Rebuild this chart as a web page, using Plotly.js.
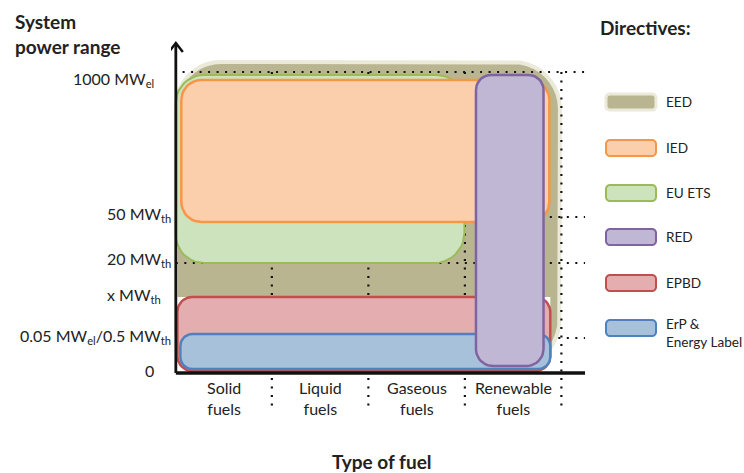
<!DOCTYPE html>
<html>
<head>
<meta charset="utf-8">
<script src="https://cdn.plot.ly/plotly-3.0.1.min.js"></script>
<style>html,body{margin:0;padding:0;background:#fff}#chart{width:744px;height:473px}</style>
</head>
<body>
<div id="chart"></div>
<script>
// ---------------- data ----------------
const categories = ['Solid<br>fuels', 'Liquid<br>fuels', 'Gaseous<br>fuels', 'Renewable<br>fuels'];
const categoryCenters = [0.5, 1.5, 2.5, 3.5];
const categoryDividers = [1, 2, 3, 4];

// schematic (non-linear) power-range levels on the y axis
const levelLabels = ['0', '0.05 MW<sub>el</sub>/0.5 MW<sub>th</sub>', 'x MW<sub>th</sub>',
                     '20 MW<sub>th</sub>', '50 MW<sub>th</sub>', '1000 MW<sub>el</sub>'];
const levelValues = [0, 3.5, 7.6, 11.0, 15.6, 30.1];

// directives: extent along fuel types (x) and power range (y)
const directives = ['EED', 'IED', 'EU ETS', 'RED', 'EPBD', 'ErP &<br>Energy Label'];
const dirXStart = [0.00, 0.057, 0.00, 3.11, 0.016, 0.047];
const dirXEnd   = [3.98, 3.87, 2.99, 3.81, 3.88, 3.88];
const dirYLow   = [0.1, 15.1, 11.0, 0.7, 0.2, 0.4];
const dirYHigh  = [31.1, 29.3, 29.8, 29.8, 7.6, 3.9];

// ---------------- styles ----------------
const fillColors = ['#b9b590', '#fbcfac', '#cde3bd', '#bfb7d4', '#e4aeb0', '#a8c1db'];
const lineColors = ['#ebe9da', '#f79646', '#9bbb59', '#8064a2', '#c0504d', '#4f81bd'];
const lineWidths = [4, 2.5, 2, 2.5, 2.5, 2.5];
const cornerPx = [[45, 47, 55, 45], [20, 20, 20, 20], [28, 28, 30, 28], [15, 15, 17, 17], [15, 15, 15, 15], [12, 12, 12, 12]];
const drawOrder = [2, 1, 4, 5, 3]; // after EED + guides

const W = 744, H = 473;
const M = {l: 171, r: 158, t: 38, b: 63};
const xRange = [-0.05, 4.25], yRange = [-3.7, 33.5];
const pw = W - M.l - M.r, ph = H - M.t - M.b;
const kx = (xRange[1] - xRange[0]) / pw;   // data units per px
const ky = (yRange[1] - yRange[0]) / ph;
const FONT = 'Lato, "Open Sans", sans-serif';

function roundRectPts(x0, x1, y0, y1, r, sx, sy) {
  const xs = [], ys = [];
  const corner = (cx, cy, rp, a0, a1) => {
    for (let i = 0; i <= 10; i++) {
      const a = a0 + (a1 - a0) * i / 10;
      xs.push(cx + rp * sx * Math.cos(a));
      ys.push(cy + rp * sy * Math.sin(a));
    }
  };
  corner(x0 + r[0] * sx, y1 - r[0] * sy, r[0], Math.PI, Math.PI / 2);
  corner(x1 - r[1] * sx, y1 - r[1] * sy, r[1], Math.PI / 2, 0);
  corner(x1 - r[2] * sx, y0 + r[2] * sy, r[2], 0, -Math.PI / 2);
  corner(x0 + r[3] * sx, y0 + r[3] * sy, r[3], -Math.PI / 2, -Math.PI);
  xs.push(xs[0]); ys.push(ys[0]);
  return {xs, ys};
}

function dirTrace(i) {
  const p = roundRectPts(dirXStart[i], dirXEnd[i], dirYLow[i], dirYHigh[i], cornerPx[i], kx, ky);
  return {x: p.xs, y: p.ys, type: 'scatter', mode: 'lines', fill: 'toself',
          fillcolor: fillColors[i], line: {color: lineColors[i], width: lineWidths[i]},
          hoverinfo: 'skip', showlegend: false};
}

const dotLine = {color: '#111', width: 2.2, dash: '2px,6.5px'};
function seg(xa, ya) {
  return {x: xa, y: ya, type: 'scatter', mode: 'lines', line: dotLine, hoverinfo: 'skip', showlegend: false};
}

const traces = [];
const xEndAxis = 4.24;
// guide under EED
traces.push(seg([0, xEndAxis], [levelValues[1], levelValues[1]]));
// EED
traces.push(dirTrace(0));
// white area below EPBD top
traces.push({x: [0, dirXEnd[4], dirXEnd[4], 0, 0], y: [0, 0, dirYHigh[4], dirYHigh[4], 0],
  type: 'scatter', mode: 'lines', fill: 'toself', fillcolor: '#ffffff', line: {width: 0, color: 'rgba(0,0,0,0)'},
  hoverinfo: 'skip', showlegend: false});
// dotted guides
traces.push(seg([0.07, xEndAxis], [levelValues[5], levelValues[5]]));
traces.push(seg([0, xEndAxis], [levelValues[4], levelValues[4]]));
traces.push(seg([0, xEndAxis], [levelValues[3], levelValues[3]]));
categoryDividers.forEach(d => traces.push(seg([d - 0.005, d - 0.005], [levelValues[5], -3.5])));
// other directives
drawOrder.forEach(i => traces.push(dirTrace(i)));
// axes
traces.push({x: [0, xEndAxis], y: [0, 0], type: 'scatter', mode: 'lines', line: {color: '#111', width: 3.5}, hoverinfo: 'skip', showlegend: false});
traces.push({x: [0, 0], y: [0, 33], type: 'scatter', mode: 'lines', line: {color: '#111', width: 2.8}, hoverinfo: 'skip', showlegend: false});
traces.push({x: [-7 * kx, 0, 7 * kx], y: [33 - 9 * ky, 33, 33 - 9 * ky], type: 'scatter', mode: 'lines',
  line: {color: '#111', width: 2.5}, hoverinfo: 'skip', showlegend: false});

// ---------------- annotations ----------------
const toPX = px => (px - M.l) / pw;          // pixel x -> paper
const toPY = py => (H - M.b - py) / ph;      // pixel y -> paper
const annotations = [];
const tickXShift = [-20, -3, -13, -3, -3, -20];
const tickYShift = [3, 2, 2, 4, 3, -7];
levelLabels.forEach((t, i) => annotations.push({
  text: t, xref: 'paper', yref: 'y', x: toPX(175.5), y: levelValues[i], xanchor: 'right', yanchor: 'middle',
  xshift: tickXShift[i], yshift: tickYShift[i], showarrow: false, font: {family: FONT, size: 16, color: '#222'}
}));
categories.forEach((c, i) => annotations.push({
  text: c, xref: 'x', yref: 'y', x: categoryCenters[i], y: -2.5, xanchor: 'center', yanchor: 'middle',
  showarrow: false, font: {family: FONT, size: 16, color: '#222'}
}));
const bold = {family: FONT, size: 19, color: '#222', weight: 'bold'};
annotations.push({text: '<b>System<br>power range</b>', xref: 'paper', yref: 'paper', x: toPX(13), y: toPY(34),
  xanchor: 'left', yanchor: 'middle', align: 'left', showarrow: false, font: bold});
annotations.push({text: '<b>Directives:</b>', xref: 'paper', yref: 'paper', x: toPX(645), y: toPY(27),
  xanchor: 'center', yanchor: 'middle', showarrow: false, font: bold});
annotations.push({text: '<b>Type of fuel</b>', xref: 'paper', yref: 'paper', x: toPX(382), y: toPY(462),
  xanchor: 'center', yanchor: 'middle', showarrow: false, font: bold});

// legend
const legendY = [102, 148, 193, 237, 283, 328];
const shapes = [];
directives.forEach((d, i) => {
  const p = roundRectPts(606, 656, legendY[i] + 8, legendY[i] - 8, [4, 4, 4, 4], 1, -1);
  const path = p.xs.map((x, j) => (j ? 'L' : 'M') + toPX(x).toFixed(5) + ',' + toPY(p.ys[j]).toFixed(5)).join(' ') + ' Z';
  shapes.push({type: 'path', xref: 'paper', yref: 'paper', path, fillcolor: fillColors[i],
    line: {color: lineColors[i], width: i === 0 ? 3 : 2}, layer: 'above'});
  annotations.push({text: d, xref: 'paper', yref: 'paper', x: toPX(664), y: toPY(legendY[i]),
    xanchor: 'left', yanchor: i === 5 ? 'top' : 'middle', yshift: i === 5 ? 14 : 0, align: 'left', showarrow: false,
    font: {family: FONT, size: 13.6, color: '#222'}});
});

const layout = {
  width: W, height: H, autosize: false,
  margin: {l: M.l, r: M.r, t: M.t, b: M.b, pad: 0},
  paper_bgcolor: '#fff', plot_bgcolor: '#fff',
  xaxis: {range: xRange, visible: false, fixedrange: true},
  yaxis: {range: yRange, visible: false, fixedrange: true},
  showlegend: false, annotations, shapes
};
Plotly.newPlot('chart', traces, layout, {staticPlot: true, displayModeBar: false});
</script>
</body>
</html>
